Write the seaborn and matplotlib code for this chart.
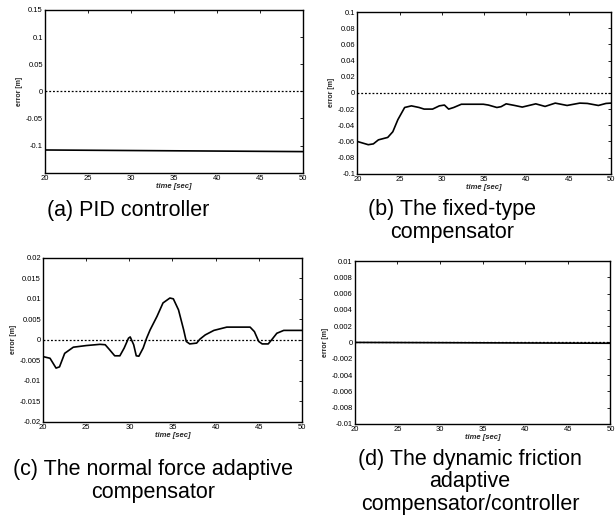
import matplotlib
matplotlib.use("Agg")
import matplotlib.pyplot as plt
from matplotlib.ticker import FuncFormatter
import seaborn as sns

# (a) PID controller
t_a = [20, 50]
err_a = [-0.108, -0.111]

# (b) fixed-type compensator
t_b = [20, 21.3, 21.9, 22.5, 23.6, 24.2, 24.8, 25.6, 26.4, 27.3, 27.9, 28.9, 29.7, 30.3,
       30.8, 31.4, 32.3, 33.9, 34.9, 35.5, 36.5, 37.0, 37.6, 38.6, 39.5, 40.1, 41.1,
       42.2, 43.4, 44.8, 46.3, 47.2, 48.5, 49.4, 50]
err_b = [-0.060, -0.064, -0.063, -0.058, -0.055, -0.048, -0.033, -0.018, -0.016, -0.018,
         -0.020, -0.020, -0.016, -0.015, -0.020, -0.018, -0.014, -0.014, -0.014, -0.015,
         -0.018, -0.017, -0.0135, -0.0155, -0.0175, -0.016, -0.0135, -0.0167, -0.0126,
         -0.0155, -0.0126, -0.013, -0.0155, -0.013, -0.0126]

# (c) normal force adaptive compensator
t_c = [20, 20.8, 21.5, 21.9, 22.5, 23.5, 25, 26.6, 27.2, 27.7, 28.3, 28.9, 29.4, 29.9,
       30.1, 30.5, 30.8, 31.1, 31.6, 32.0, 32.4, 33.2, 33.9, 34.7, 35.1, 35.7, 36.3,
       36.6, 37.0, 37.8, 38.2, 38.8, 39.8, 41.3, 44.0, 44.5, 45.0, 45.4, 46.1, 46.5,
       47.1, 47.9, 50]
err_c = [-0.0041, -0.0045, -0.0069, -0.0066, -0.0033, -0.0018, -0.0014, -0.0011, -0.0012,
         -0.0024, -0.0039, -0.0039, -0.002, 0.0004, 0.0007, -0.0012, -0.0039, -0.004,
         -0.002, 0.0004, 0.0024, 0.0057, 0.009, 0.0102, 0.010, 0.0073, 0.0024, -0.0004,
         -0.001, -0.0008, 0.0002, 0.0012, 0.0023, 0.0031, 0.0031, 0.002, -0.0004, -0.001,
         -0.001, 0.0, 0.0016, 0.0023, 0.0023]

# (d) dynamic friction adaptive compensator/controller
t_d = [20, 50]
err_d = [0.0, -0.0001]

ref_t = [20, 50]
ref_v = [0, 0]

ylims = [(-0.15, 0.15), (-0.1, 0.1), (-0.02, 0.02), (-0.01, 0.01)]
yticks = [[-0.1, -0.05, 0, 0.05, 0.1, 0.15],
          [-0.1, -0.08, -0.06, -0.04, -0.02, 0, 0.02, 0.04, 0.06, 0.08, 0.1],
          [-0.02, -0.015, -0.01, -0.005, 0, 0.005, 0.01, 0.015, 0.02],
          [-0.01, -0.008, -0.006, -0.004, -0.002, 0, 0.002, 0.004, 0.006, 0.008, 0.01]]
xticks = [20, 25, 30, 35, 40, 45, 50]

sns.set_style("white")
plt.rcParams["font.family"] = ["Liberation Sans", "DejaVu Sans"]

fig = plt.figure(figsize=(6.16, 5.22), dpi=100)
boxes = [[0.073, 0.669, 0.419, 0.312],
         [0.580, 0.667, 0.412, 0.310],
         [0.070, 0.192, 0.420, 0.314],
         [0.576, 0.188, 0.415, 0.312]]
series = [(t_a, err_a), (t_b, err_b), (t_c, err_c), (t_d, err_d)]

fmt = FuncFormatter(lambda v, p: "%g" % v)
for i in range(4):
    ax = fig.add_axes(boxes[i])
    sns.lineplot(x=ref_t, y=ref_v, ax=ax, color="black", linewidth=0.9, linestyle=(0, (1.5, 1.5)))
    sns.lineplot(x=series[i][0], y=series[i][1], ax=ax, color="black", linewidth=1.2)
    ax.set_xlim(20, 50)
    ax.set_ylim(*ylims[i])
    ax.set_xticks(xticks)
    ax.set_yticks(yticks[i])
    ax.yaxis.set_major_formatter(fmt)
    ax.tick_params(direction="in", length=2.5, width=0.6, labelsize=5.5, pad=1.5,
                   top=True, right=True, colors="black")
    for s in ax.spines.values():
        s.set_color("black")
        s.set_linewidth(1.0)
    ax.set_xlabel("time [sec]", fontsize=5.5, style="italic", fontweight="bold", labelpad=1)
    ax.set_ylabel("error [m]", fontsize=5, fontweight="bold", labelpad=2)

cap = dict(ha="center", va="center", fontsize=15.5, color="black", linespacing=1.12)
fig.text(128 / 616, 1 - 210 / 522, "(a) PID controller", **cap)
fig.text(452 / 616, 1 - 221 / 522, "(b) The fixed-type\ncompensator", **cap)
fig.text(153 / 616, 1 - 481 / 522, "(c) The normal force adaptive\ncompensator", **cap)
fig.text(470 / 616, 1 - 482 / 522, "(d) The dynamic friction\nadaptive\ncompensator/controller", **cap)

fig.savefig("out.png", dpi=100)
